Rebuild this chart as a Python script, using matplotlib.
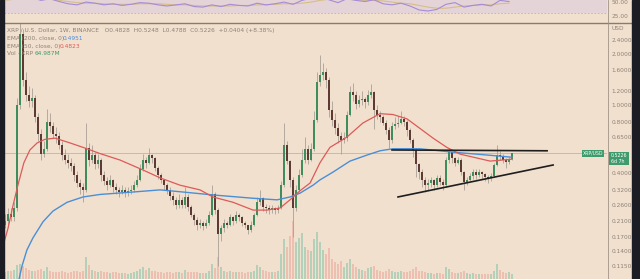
import numpy as np
import matplotlib.pyplot as plt
from matplotlib.lines import Line2D
from matplotlib.patches import Rectangle
import matplotlib.transforms as mtransforms

# weekly candles, index 0..169
closes = [0.21, 0.23, 0.22, 0.25, 1.00, 2.60, 1.40, 1.15, 1.05, 1.10,
          0.85, 0.68, 0.52, 0.55, 0.80, 0.75, 0.68, 0.66, 0.58, 0.51,
          0.48, 0.46, 0.44, 0.39, 0.35, 0.33, 0.32, 0.56, 0.48, 0.51,
          0.45, 0.48, 0.39, 0.36, 0.34, 0.365, 0.33, 0.32, 0.31, 0.32,
          0.305, 0.315, 0.32, 0.34, 0.365, 0.42, 0.48, 0.46, 0.51, 0.49,
          0.43, 0.39, 0.365, 0.34, 0.32, 0.295, 0.28, 0.26, 0.28, 0.26,
          0.29, 0.255, 0.228, 0.213, 0.199, 0.205, 0.196, 0.205, 0.228, 0.30,
          0.243, 0.175, 0.19, 0.205, 0.199, 0.22, 0.21, 0.228, 0.22, 0.205,
          0.199, 0.186, 0.199, 0.228, 0.27, 0.285, 0.255, 0.25, 0.243, 0.25,
          0.243, 0.25, 0.34, 0.58, 0.47, 0.365, 0.25, 0.32, 0.39, 0.48,
          0.55, 0.48, 0.55, 0.82, 1.37, 1.50, 1.56, 1.40, 0.94, 0.82,
          0.73, 0.66, 0.625, 0.64, 0.88, 1.19, 1.14, 1.02, 1.07, 1.09,
          1.04, 1.14, 1.19, 0.94, 0.88, 0.85, 0.79, 0.715, 0.625, 0.75,
          0.77, 0.79, 0.83, 0.80, 0.715, 0.625, 0.546, 0.45, 0.405, 0.365,
          0.34, 0.35, 0.365, 0.34, 0.375, 0.355, 0.34, 0.48, 0.53, 0.49,
          0.46, 0.48, 0.405, 0.355, 0.365, 0.385, 0.405, 0.39, 0.405, 0.395,
          0.38, 0.375, 0.385, 0.445, 0.51, 0.505, 0.48, 0.465, 0.4828, 0.5226]
highs = [0.23, 0.25, 0.25, 0.27, 1.10, 3.10, 2.80, 1.55, 1.30, 1.25,
         1.15, 0.90, 0.72, 0.62, 0.95, 0.90, 0.80, 0.74, 0.70, 0.62,
         0.55, 0.52, 0.49, 0.46, 0.41, 0.37, 0.35, 0.78, 0.60, 0.58,
         0.53, 0.52, 0.49, 0.41, 0.38, 0.39, 0.37, 0.35, 0.33, 0.34,
         0.33, 0.33, 0.34, 0.36, 0.39, 0.45, 0.52, 0.50, 0.56, 0.52,
         0.50, 0.44, 0.40, 0.37, 0.35, 0.33, 0.31, 0.29, 0.30, 0.29,
         0.33, 0.30, 0.26, 0.235, 0.22, 0.215, 0.21, 0.215, 0.24, 0.34,
         0.31, 0.25, 0.20, 0.215, 0.21, 0.23, 0.225, 0.24, 0.235, 0.225,
         0.21, 0.20, 0.21, 0.235, 0.29, 0.32, 0.29, 0.265, 0.26, 0.26,
         0.255, 0.26, 0.36, 0.78, 0.62, 0.48, 0.38, 0.34, 0.42, 0.55,
         0.65, 0.58, 0.60, 0.92, 1.55, 1.96, 1.75, 1.65, 1.45, 1.05,
         0.90, 0.78, 0.70, 0.70, 0.92, 1.30, 1.35, 1.20, 1.15, 1.20,
         1.12, 1.22, 1.32, 1.20, 1.00, 0.92, 0.88, 0.82, 0.74, 0.80,
         0.85, 0.86, 0.92, 0.86, 0.82, 0.73, 0.64, 0.56, 0.46, 0.42,
         0.38, 0.37, 0.38, 0.37, 0.39, 0.39, 0.37, 0.50, 0.56, 0.54,
         0.50, 0.50, 0.49, 0.41, 0.38, 0.40, 0.42, 0.42, 0.42, 0.41,
         0.40, 0.39, 0.40, 0.46, 0.585, 0.54, 0.52, 0.49, 0.50, 0.5248]
lows = [0.19, 0.20, 0.21, 0.21, 0.24, 0.95, 1.30, 1.05, 0.98, 0.98,
        0.80, 0.62, 0.48, 0.50, 0.54, 0.70, 0.64, 0.60, 0.55, 0.48,
        0.45, 0.43, 0.41, 0.36, 0.33, 0.30, 0.27, 0.31, 0.44, 0.46,
        0.42, 0.43, 0.36, 0.34, 0.32, 0.33, 0.31, 0.30, 0.29, 0.30,
        0.29, 0.295, 0.30, 0.31, 0.33, 0.36, 0.41, 0.43, 0.45, 0.46,
        0.41, 0.37, 0.35, 0.32, 0.30, 0.28, 0.26, 0.245, 0.25, 0.25,
        0.25, 0.24, 0.22, 0.20, 0.185, 0.19, 0.185, 0.19, 0.20, 0.225,
        0.23, 0.115, 0.16, 0.18, 0.19, 0.195, 0.20, 0.205, 0.21, 0.195,
        0.19, 0.175, 0.18, 0.195, 0.225, 0.26, 0.24, 0.235, 0.23, 0.235,
        0.23, 0.235, 0.245, 0.33, 0.45, 0.33, 0.17, 0.24, 0.31, 0.38,
        0.46, 0.45, 0.47, 0.54, 0.80, 1.30, 1.40, 1.25, 0.85, 0.75,
        0.68, 0.60, 0.52, 0.60, 0.62, 0.86, 1.05, 0.95, 0.98, 1.00,
        0.96, 1.00, 1.10, 0.72, 0.83, 0.80, 0.76, 0.68, 0.56, 0.60,
        0.72, 0.74, 0.77, 0.75, 0.66, 0.60, 0.50, 0.38, 0.37, 0.33,
        0.31, 0.32, 0.33, 0.32, 0.33, 0.34, 0.32, 0.33, 0.46, 0.46,
        0.44, 0.45, 0.39, 0.32, 0.34, 0.36, 0.37, 0.37, 0.38, 0.37,
        0.36, 0.35, 0.36, 0.38, 0.44, 0.48, 0.46, 0.43, 0.45, 0.4788]
volumes = [90, 110, 100, 120, 180, 200, 170, 140, 120, 110,
           100, 120, 130, 100, 150, 110, 90, 85, 95, 100,
           90, 80, 85, 100, 110, 95, 100, 280, 180, 120,
           100, 90, 110, 95, 85, 80, 90, 85, 80, 75,
           80, 70, 75, 85, 100, 130, 150, 120, 140, 110,
           100, 95, 85, 80, 85, 90, 80, 85, 90, 80,
           120, 95, 90, 85, 90, 80, 75, 80, 100, 190,
           140, 290, 150, 110, 90, 100, 85, 95, 90, 85,
           80, 90, 85, 110, 180, 150, 120, 100, 95, 90,
           85, 100, 330, 520, 420, 560, 760, 480, 530, 600,
           420, 380, 360, 520, 610, 480, 380, 330, 400, 260,
           220, 190, 240, 160, 210, 260, 190, 150, 130, 120,
           110, 140, 150, 170, 120, 100, 95, 110, 130, 110,
           95, 90, 100, 85, 95, 110, 130, 150, 110, 100,
           90, 80, 75, 70, 80, 75, 70, 150, 130, 90,
           80, 75, 90, 100, 80, 70, 75, 70, 65, 70,
           65, 60, 70, 110, 200, 120, 90, 80, 85, 65]
opens = [0.20] + closes[:-1]

# moving averages as shown on the chart
ema50_idx = [-0.7, 1.0, 2.7, 4.3, 6.3, 8.3, 10.7, 13.3, 16.7, 21.7, 26.7, 31.7,
             38.3, 46, 51.7, 58.3, 65, 69.3, 76, 82.7, 87.3, 91.7, 95, 98.3,
             101.7, 105, 108.3, 114, 119.3, 125, 129.3, 134, 138.3, 142.7,
             147.3, 151.7, 157.3, 161.7, 169]
ema50_val = [0.149, 0.19, 0.26, 0.34, 0.46, 0.546, 0.60, 0.63, 0.64, 0.60, 0.56, 0.52,
             0.477, 0.417, 0.375, 0.34, 0.319, 0.29, 0.27, 0.243, 0.243, 0.25, 0.279, 0.315,
             0.35, 0.46, 0.565, 0.65, 0.785, 0.89, 0.88, 0.83, 0.73, 0.64,
             0.565, 0.516, 0.49, 0.47, 0.4823]
ema200_idx = [4.0, 5.7, 7.3, 9.3, 12.7, 16, 20.7, 26, 31.7, 42.7, 51.7, 59.3,
              69.3, 82.7, 90.7, 95, 98.3, 102.7, 105, 109.3, 115, 120.7, 125,
              129.3, 138.3, 149.3, 160.7, 169]
ema200_val = [0.085, 0.115, 0.142, 0.167, 0.208, 0.24, 0.27, 0.29, 0.30, 0.31, 0.319, 0.31,
              0.298, 0.285, 0.279, 0.29, 0.305, 0.34, 0.365, 0.405, 0.47, 0.51, 0.54,
              0.555, 0.555, 0.53, 0.51, 0.4951]

# triangle drawn on the chart
tri_top_idx = [129.0, 180.7]
tri_top_val = [0.546, 0.54]
tri_bot_idx = [131.0, 182.7]
tri_bot_val = [0.29, 0.446]

# RSI panel (every third week)
rsi_idx = list(range(0, 170, 3))
rsi_val = [55, 58, 62, 57, 52, 55, 50, 46, 44, 49,
           47, 44, 46, 43, 45, 48, 47, 44, 42, 44,
           46, 41, 40, 44, 41, 45, 43, 42, 47, 44,
           46, 49, 45, 52, 56, 60, 53, 48, 55, 52,
           50, 53, 46, 44, 47, 42, 35, 33, 36, 45,
           48, 40, 43, 45, 42, 52, 50]
rsi_ma = [52, 54, 56, 56, 55, 54, 52, 50, 48, 47,
          47, 46, 45, 45, 45, 46, 46, 46, 45, 44,
          44, 43, 42, 42, 42, 42, 43, 43, 44, 44,
          45, 46, 46, 47, 49, 52, 54, 54, 54, 53,
          52, 52, 51, 49, 47, 46, 43, 40, 38, 38,
          40, 42, 43, 44, 44, 46, 47]

price_ticks = [2.4, 2.0, 1.6, 1.2, 1.0, 0.8, 0.65, 0.4, 0.32, 0.26, 0.21, 0.17, 0.14, 0.115]
last_price = 0.5226

bg = '#f2e0cf'
dark = '#1c1d24'
txt = '#8c8276'
W, H = 640, 279

fig = plt.figure(figsize=(6.4, 2.79), dpi=100, facecolor=bg)
fig.patches.append(Rectangle((0, 0), 4 / W, 1, transform=fig.transFigure, color=dark, zorder=10))
fig.patches.append(Rectangle((632 / W, 0), 8 / W, 1, transform=fig.transFigure, color=dark, zorder=10))

x_lo, x_hi = (4 - 5) / 3, (607 - 5) / 3

# main price panel
ax = fig.add_axes([4 / W, 0, 603 / W, 256 / H])
axv = ax.twinx()
ax.set_zorder(2)
axv.set_zorder(1)
ax.patch.set_visible(False)
axv.patch.set_visible(False)

idx = np.arange(len(closes))
up = np.array(closes) >= np.array(opens)

vcol = np.where(up, '#8cc6ab', '#eaa99e')
axv.bar(idx, volumes, width=0.75, color=vcol, alpha=0.6, linewidth=0)
axv.set_ylim(0, 3330)
axv.axis('off')

ax.set_yscale('log')
ax.set_ylim(0.0961, 3.017)
ax.set_xlim(x_lo, x_hi)

ax.axhline(last_price, color='#b5aca2', lw=0.5, zorder=1)

ax.vlines(idx, lows, highs, color='#a8a097', lw=0.6, zorder=2)
bot = np.minimum(opens, closes)
hgt = np.abs(np.array(closes) - np.array(opens))
ax.bar(idx, hgt, bottom=bot, width=0.7, color=np.where(up, '#3f8c5c', '#5e3a34'),
       linewidth=0, zorder=3)

ax.plot(ema200_idx, ema200_val, color='#4a8fd6', lw=1.0, zorder=4)
ax.plot(ema50_idx, ema50_val, color='#dc5a58', lw=0.9, zorder=4)

ax.plot(tri_top_idx, tri_top_val, color='#1e1e1e', lw=1.2, zorder=5)
ax.plot(tri_bot_idx, tri_bot_val, color='#1e1e1e', lw=1.2, zorder=5)

ax.yaxis.tick_right()
ax.set_yticks(price_ticks)
ax.set_yticklabels(['%.4f' % p for p in price_ticks])
ax.yaxis.set_minor_locator(plt.NullLocator())
ax.tick_params(axis='y', length=0, pad=3, labelsize=4.2, labelcolor=txt)
ax.set_xticks([])
for s in ax.spines.values():
    s.set_visible(False)

# current price labels
ax.text(196, last_price, 'XRP/USD', fontsize=3.3, color='white', ha='center', va='center',
        zorder=6, bbox=dict(boxstyle='square,pad=0.25', fc='#3f9a6c', ec='none'))
blend = mtransforms.blended_transform_factory(ax.transAxes, ax.transData)
ax.text(1.006, last_price, '0.5226\n6d 7h', transform=blend, fontsize=3.4, color='white',
        ha='left', va='top', linespacing=1.1, zorder=6,
        bbox=dict(boxstyle='square,pad=0.35', fc='#3f9a6c', ec='none'))

fig.text(612 / W, 1 - 29 / H, 'USD', fontsize=4.2, color=txt, va='center')

# legend text
def ftext(x, y, s, c=txt):
    fig.text(x / W, 1 - y / H, s, fontsize=4.2, color=c, va='center')

ftext(7, 30.5, 'XRP / U.S. Dollar, 1W, BINANCE   O0.4828  H0.5248  L0.4788  C0.5226  +0.0404 (+8.38%)')
ftext(7, 38.5, 'EMA (200, close, 0)')
ftext(63, 38.5, '0.4951', '#4a8fd6')
ftext(7, 46.5, 'EMA (50, close, 0)')
ftext(60, 46.5, '0.4823', '#dc5a58')
ftext(7, 53.5, 'Vol · XRP')
ftext(35, 53.5, '64.987M', '#3f9a6c')

# RSI panel on top
axr = fig.add_axes([4 / W, 257 / H, 603 / W, 22 / H])
axr.patch.set_visible(False)
axr.set_xlim(x_lo, x_hi)
axr.set_ylim(13.4, 52.7)
axr.axhspan(30, 70, color='#e4d4d8', lw=0)
axr.axhline(30, color='#bfaeb8', lw=0.6, ls=(0, (2, 2)))
axr.plot(rsi_idx, rsi_ma, color='#d9bd86', lw=0.8)
axr.plot(rsi_idx, rsi_val, color='#a58bd6', lw=0.8)
axr.yaxis.tick_right()
axr.set_yticks([50, 25])
axr.set_yticklabels(['50.00', '25.00'])
axr.tick_params(axis='y', length=0, pad=3, labelsize=4.2, labelcolor=txt)
axr.set_xticks([])
for s in axr.spines.values():
    s.set_visible(False)

# panel separators
fig.lines.append(Line2D([4 / W, 632 / W], [1 - 22.5 / H] * 2, transform=fig.transFigure,
                        color='#8c7a6a', lw=1.0))
fig.lines.append(Line2D([607.5 / W] * 2, [0, 1], transform=fig.transFigure,
                        color='#a09386', lw=0.6))

fig.savefig('out.png', dpi=100, facecolor=bg)
